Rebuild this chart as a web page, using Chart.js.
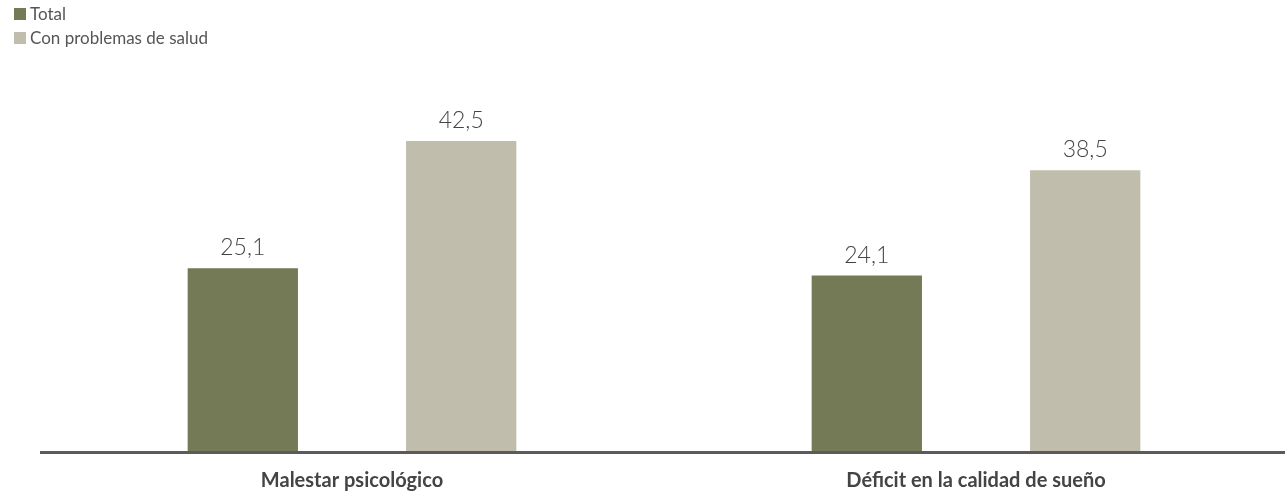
<!DOCTYPE html>
<html>
<head>
<meta charset="utf-8">
<script src="https://cdn.jsdelivr.net/npm/chart.js@4"></script>
<style>
  html, body { margin: 0; padding: 0; background: #fff; overflow: hidden; }
  #wrap { position: relative; width: 1290px; height: 510px; }
</style>
</head>
<body>
<div id="wrap"><canvas id="chart"></canvas></div>
<script>
const categories = ['Malestar psicológico', 'Déficit en la calidad de sueño'];
const seriesNames = ['Total', 'Con problemas de salud'];
const totalValues = [25.1, 24.1];
const healthValues = [42.5, 38.5];
const seriesColors = ['#737a55', '#c0bdac'];

const fmt = v => v.toFixed(1).replace('.', ',');

// legend stacked in two rows at the top left
const legendRows = {
  id: 'legendRows',
  afterDraw(chart) {
    const ctx = chart.ctx;
    ctx.save();
    ctx.font = '17px Lato';
    ctx.textBaseline = 'middle';
    chart.data.datasets.forEach((ds, i) => {
      const y = 8 + i * 24;
      ctx.fillStyle = ds.backgroundColor;
      ctx.fillRect(14, y, 12, 12);
      ctx.fillStyle = '#555';
      ctx.fillText(ds.label, 30, y + 6.5);
    });
    ctx.restore();
  }
};

// value labels above bars + the baseline rule
const barValues = {
  id: 'barValues',
  afterDatasetsDraw(chart) {
    const ctx = chart.ctx;
    ctx.save();
    ctx.font = '300 23px Lato';
    ctx.fillStyle = '#444';
    ctx.textAlign = 'center';
    ctx.textBaseline = 'bottom';
    chart.data.datasets.forEach((ds, i) => {
      chart.getDatasetMeta(i).data.forEach((bar, j) => {
        ctx.fillText(fmt(ds.data[j]), bar.x, bar.y - 9);
      });
    });
    const y = chart.chartArea.bottom + 0.5;
    ctx.strokeStyle = '#5b5b5b';
    ctx.lineWidth = 3;
    ctx.beginPath();
    ctx.moveTo(40, y);
    ctx.lineTo(chart.width, y);
    ctx.stroke();
    ctx.restore();
  }
};

new Chart(document.getElementById('chart'), {
  type: 'bar',
  data: {
    labels: categories,
    datasets: [
      { label: seriesNames[0], data: totalValues, backgroundColor: seriesColors[0] },
      { label: seriesNames[1], data: healthValues, backgroundColor: seriesColors[1] }
    ]
  },
  options: {
    responsive: true,
    maintainAspectRatio: false,
    animation: false,
    barPercentage: 0.505,
    categoryPercentage: 0.70,
    layout: { padding: { top: 86, left: 40, right: 2, bottom: 0 } },
    plugins: {
      legend: { display: false },
      tooltip: { enabled: false }
    },
    scales: {
      x: {
        grid: { display: false, drawTicks: false },
        border: { display: false },
        ticks: {
          padding: 17,
          color: '#444',
          font: { family: 'Lato', weight: 'bold', size: 20 }
        }
      },
      y: {
        display: false,
        min: 0,
        max: 50
      }
    }
  },
  plugins: [legendRows, barValues]
});
</script>
</body>
</html>
